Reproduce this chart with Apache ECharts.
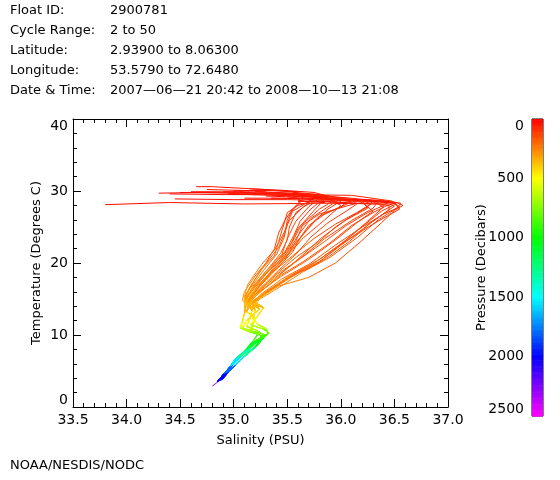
<!DOCTYPE html>
<html><head><meta charset="utf-8">
<script src="https://cdn.jsdelivr.net/npm/echarts@6/dist/echarts.min.js"></script>
<style>html,body{margin:0;padding:0;background:#fff}#c{width:560px;height:480px}</style>
</head><body><div id="c"></div>
<script>
const headerLabels = ['Float ID:', 'Cycle Range:', 'Latitude:', 'Longitude:', 'Date & Time:'];
const headerValues = ['2900781', '2 to 50', '2.93900 to 8.06300', '53.5790 to 72.6480', '2007\u201406\u201421 20:42 to 2008\u201410\u201413 21:08'];
const footerText = 'NOAA/NESDIS/NODC';
const xTitle = 'Salinity (PSU)';
const yTitle = 'Temperature (Degrees C)';
const barTitle = 'Pressure (Decibars)';

const pressureLevels = [5, 20, 35, 50, 70, 90, 110, 135, 160, 190, 240, 290, 350, 440, 520, 640, 760, 880, 1050, 1300, 1550, 1800, 2000, 2300];

const salinityProfiles = [
[33.80,34.40,35.10,35.90,36.45,36.50,36.30,36.05,35.80,35.55,35.30,35.18, 35.17,35.15,35.12,35.22,35.27,35.24,35.16,35.06,34.99,34.93,34.87,34.80],
[35.90,36.00,36.20,36.40,36.56,36.52,36.35,36.15,35.90,35.65,35.38,35.20, 35.24,35.12,35.08,35.18,35.30,35.20,35.12,35.03,34.97,34.91,34.85],
[34.40,34.90,35.50,36.10,36.48,36.55,36.30,36.00,35.75,35.50,35.28,35.15, 35.12,35.20,35.16,35.28,35.33,35.28,35.21,35.10,35.02,34.95,34.89],
[34.65,34.80,35.05,35.30,35.80,36.00,35.85,35.65,35.50,35.35,35.20,35.12, 35.28,35.22,35.18,35.16,35.22,35.18,35.10,35.01,34.96,34.90,34.85],
[34.50,35.00,35.60,35.90,35.95,35.80,35.65,35.58,35.48,35.35,35.20,35.12, 35.10,35.08,35.06,35.15,35.24,35.26,35.19,35.09,35.01,34.94,34.88],
[35.10,35.40,35.70,35.95,36.10,36.00,35.80,35.65,35.50,35.40,35.22,35.15, 35.20,35.18,35.22,35.30,35.32,35.22,35.13,35.05,34.98,34.92,34.86],
[35.60,35.62,35.65,35.70,35.60,35.50,35.46,35.42,35.38,35.25,35.15,35.10, 35.17,35.15,35.12,35.22,35.27,35.24,35.16,35.06,34.99,34.93,34.87],
[35.80,36.00,36.20,36.30,36.25,36.10,35.95,35.80,35.60,35.42,35.26,35.15, 35.24,35.12,35.08,35.18,35.30,35.20,35.12,35.03,34.97,34.91,34.85],
[36.20,36.30,36.40,36.50,36.55,36.40,36.20,35.95,35.70,35.45,35.25,35.16, 35.12,35.20,35.16,35.28,35.33,35.28,35.21,35.10,35.02,34.95,34.89],
[34.30,34.70,35.20,35.60,35.85,35.75,35.60,35.52,35.40,35.30,35.18,35.12, 35.28,35.22,35.18,35.16,35.22,35.18,35.10,35.01,34.96,34.90,34.85],
[35.30,35.50,35.80,36.00,36.20,36.30,36.15,35.95,35.70,35.45,35.22,35.12, 35.10,35.08,35.06,35.15,35.24,35.26,35.19,35.09,35.01,34.94,34.88],
[35.50,35.55,35.60,35.62,35.55,35.48,35.42,35.38,35.30,35.20,35.10,35.08, 35.20,35.18,35.22,35.30,35.32,35.22,35.13,35.05,34.98,34.92,34.86],
[36.00,36.20,36.40,36.52,36.58,36.50,36.38,36.18,35.95,35.70,35.42,35.25, 35.17,35.15,35.12,35.22,35.27,35.24,35.16,35.06,34.99,34.93,34.87],
[34.90,35.10,35.40,35.80,36.00,35.90,35.72,35.60,35.48,35.32,35.18,35.10, 35.24,35.12,35.08,35.18,35.30,35.20,35.12,35.03,34.97,34.91,34.85],
[34.45,35.00,35.50,35.95,36.30,36.40,36.25,36.05,35.80,35.55,35.30,35.16, 35.12,35.20,35.16,35.28,35.33,35.28,35.21,35.10,35.02,34.95,34.89],
[35.70,35.80,35.90,36.05,36.00,35.85,35.70,35.62,35.55,35.40,35.22,35.14, 35.28,35.22,35.18,35.16,35.22,35.18,35.10,35.01,34.96,34.90,34.85],
[35.40,35.60,35.85,36.10,36.35,36.30,36.10,35.85,35.60,35.38,35.20,35.12, 35.10,35.08,35.06,35.15,35.24,35.26,35.19,35.09,35.01,34.94,34.88],
[35.20,34.95,35.35,35.75,35.70,35.55,35.50,35.47,35.40,35.28,35.14,35.10, 35.20,35.18,35.22,35.30,35.32,35.22,35.13,35.05,34.98,34.92,34.86],
[35.85,35.60,35.90,36.15,36.05,35.80,35.62,35.55,35.45,35.30,35.15,35.10, 35.17,35.15,35.12,35.22,35.27,35.24,35.16,35.06,34.99,34.93,34.87],
[34.75,35.30,35.20,35.65,35.80,35.70,35.58,35.50,35.45,35.32,35.18,35.12, 35.24,35.12,35.08,35.18,35.30,35.20,35.12,35.03,34.97,34.91,34.85],
[36.40,36.45,36.50,36.48,36.42,36.30,36.10,35.90,35.65,35.45,35.25,35.14, 35.12,35.20,35.16,35.28,35.33,35.28,35.21,35.10,35.02,34.95,34.89],
[35.55,35.90,35.70,35.95,36.00,35.88,35.75,35.65,35.55,35.42,35.24,35.15, 35.28,35.22,35.18,35.16,35.22,35.18,35.10,35.01,34.96,34.90,34.85],
[35.00,35.25,35.60,35.55,35.85,35.65,35.52,35.46,35.38,35.26,35.13,35.10, 35.10,35.08,35.06,35.15,35.24,35.26,35.19,35.09,35.01,34.94,34.88],
[35.95,36.10,36.30,36.35,36.45,36.45,36.28,36.08,35.85,35.60,35.35,35.18, 35.20,35.18,35.22,35.30,35.32,35.22,35.13,35.05,34.98,34.92,34.86],
[35.65,35.75,35.70,35.72,35.68,35.58,35.52,35.50,35.44,35.34,35.18,35.12, 35.17,35.15,35.12,35.22,35.27,35.24,35.16,35.06,34.99,34.93,34.87],
[35.75,35.85,36.00,36.10,36.15,36.05,35.88,35.72,35.58,35.42,35.24,35.14, 35.24,35.12,35.08,35.18,35.30,35.20,35.12,35.03,34.97,34.91,34.85],
[34.60,34.85,35.30,35.80,36.20,36.25,36.05,35.82,35.62,35.45,35.26,35.15, 35.12,35.20,35.16,35.28,35.33,35.28,35.21,35.10,35.02,34.95,34.89],
[35.45,35.50,35.58,35.65,35.62,35.55,35.50,35.48,35.42,35.30,35.16,35.10, 35.28,35.22,35.18,35.16,35.22,35.18,35.10,35.01,34.96,34.90,34.85],
[36.25,36.35,36.45,36.52,36.50,36.38,36.22,36.00,35.78,35.52,35.30,35.17, 35.10,35.08,35.06,35.15,35.24,35.26,35.19,35.09,35.01,34.94,34.88],
[35.35,35.65,35.95,36.20,36.28,36.15,35.95,35.75,35.55,35.36,35.20,35.12, 35.20,35.18,35.22,35.30,35.32,35.22,35.13,35.05,34.98,34.92,34.86],
[35.15,35.45,35.75,35.85,35.82,35.72,35.62,35.56,35.48,35.36,35.20,35.12, 35.17,35.15,35.12,35.22,35.27,35.24,35.16,35.06,34.99,34.93,34.87],
[36.10,36.25,36.38,36.45,36.40,36.25,36.05,35.85,35.62,35.40,35.22,35.13, 35.24,35.12,35.08,35.18,35.30,35.20,35.12,35.03,34.97,34.91,34.85]
];

const temperatureProfiles = [
[28.1,28.4,28.2,28.3,28.2,27.9,25.8,23.0,20.2,18.3,15.9,14.4, 13.4,12.2,11.2,10.6,10.1,9.4,8.2,6.9,5.8,4.7,3.7,2.9],
[29.0,28.9,28.7,28.6,28.3,27.6,26.0,23.5,20.8,18.8,16.2,14.6, 13.6,12.0,11.0,10.5,10.0,9.2,8.0,6.8,5.7,4.6,3.6],
[29.6,29.5,29.5,29.4,28.6,27.5,25.4,22.6,20.0,18.0,15.8,14.3, 13.2,12.4,11.4,10.8,10.3,9.6,8.4,7.0,5.9,4.8,3.8],
[30.6,30.6,30.4,30.2,29.5,28.0,26.0,23.5,21.0,18.8,16.0,14.5, 13.8,12.6,11.6,10.7,10.0,9.1,7.8,6.6,5.5,4.5,3.5],
[29.8,29.7,29.6,29.3,28.8,27.5,25.5,23.0,20.5,18.5,16.2,14.8, 13.0,11.8,11.0,10.4,10.1,9.5,8.3,7.0,5.8,4.7,3.7],
[29.0,29.0,28.9,28.8,28.5,27.8,26.5,24.0,21.5,19.5,16.8,15.0, 13.5,12.3,11.5,10.9,10.2,9.3,8.1,6.9,5.7,4.6,3.6],
[28.8,28.7,28.6,28.4,28.0,27.0,25.0,23.0,21.0,19.0,16.5,15.2, 13.4,12.2,11.2,10.6,10.1,9.4,8.2,6.9,5.8,4.7,3.7],
[28.9,28.9,28.8,28.6,27.8,26.5,25.0,23.0,21.0,18.8,16.5,14.8, 13.6,12.0,11.0,10.5,10.0,9.2,8.0,6.8,5.7,4.6,3.6],
[28.5,28.5,28.4,28.3,27.8,26.8,25.0,22.5,19.8,17.8,15.6,14.2, 13.2,12.4,11.4,10.8,10.3,9.6,8.4,7.0,5.9,4.8,3.8],
[29.7,29.8,29.7,29.5,28.9,27.3,24.8,22.2,19.8,18.0,16.0,14.6, 13.8,12.6,11.6,10.7,10.0,9.1,7.8,6.6,5.5,4.5,3.5],
[29.3,29.2,29.1,28.9,28.4,27.2,25.6,23.2,20.5,18.2,15.8,14.4, 13.0,11.8,11.0,10.4,10.1,9.5,8.3,7.0,5.8,4.7,3.7],
[29.2,29.1,29.0,28.6,27.5,26.0,24.2,22.0,20.0,18.2,16.0,14.8, 13.5,12.3,11.5,10.9,10.2,9.3,8.1,6.9,5.7,4.6,3.6],
[28.7,28.7,28.6,28.4,28.0,27.3,25.6,22.9,20.0,18.0,16.8,15.2, 13.4,12.2,11.2,10.6,10.1,9.4,8.2,6.9,5.8,4.7,3.7],
[29.9,29.9,29.8,29.5,29.0,28.0,26.2,23.8,21.0,18.8,16.3,14.9, 13.6,12.0,11.0,10.5,10.0,9.2,8.0,6.8,5.7,4.6,3.6],
[28.9,28.8,28.8,28.7,28.5,27.8,25.8,23.2,20.5,18.4,16.0,14.5, 13.2,12.4,11.4,10.8,10.3,9.6,8.4,7.0,5.9,4.8,3.8],
[28.6,28.6,28.5,28.4,27.8,26.8,25.2,23.5,21.5,19.2,16.4,14.9, 13.8,12.6,11.6,10.7,10.0,9.1,7.8,6.6,5.5,4.5,3.5],
[29.4,29.4,29.3,29.0,28.6,27.6,25.9,23.4,20.4,17.9,15.6,14.3, 13.0,11.8,11.0,10.4,10.1,9.5,8.3,7.0,5.8,4.7,3.7],
[29.5,29.6,29.4,29.2,28.5,27.2,25.5,23.5,21.2,19.0,16.2,14.8, 13.5,12.3,11.5,10.9,10.2,9.3,8.1,6.9,5.7,4.6,3.6],
[28.4,28.6,28.5,28.3,27.9,26.8,25.0,23.0,21.0,18.6,16.0,14.7, 13.4,12.2,11.2,10.6,10.1,9.4,8.2,6.9,5.8,4.7,3.7],
[30.2,30.0,29.9,29.6,29.0,27.8,25.8,23.4,21.2,19.2,16.6,15.0, 13.6,12.0,11.0,10.5,10.0,9.2,8.0,6.8,5.7,4.6,3.6],
[28.4,28.4,28.3,28.2,27.9,27.0,25.2,22.8,20.2,18.4,16.0,14.6, 13.2,12.4,11.4,10.8,10.3,9.6,8.4,7.0,5.9,4.8,3.8],
[29.3,29.2,29.2,29.0,28.6,27.5,25.8,24.0,22.0,19.8,16.8,15.1, 13.8,12.6,11.6,10.7,10.0,9.1,7.8,6.6,5.5,4.5,3.5],
[30.0,30.1,29.9,29.7,29.3,27.8,25.9,23.9,21.8,19.8,17.0,15.3, 13.0,11.8,11.0,10.4,10.1,9.5,8.3,7.0,5.8,4.7,3.7],
[28.3,28.3,28.2,28.2,28.0,27.4,25.6,23.0,20.5,18.6,16.3,14.8, 13.5,12.3,11.5,10.9,10.2,9.3,8.1,6.9,5.7,4.6,3.6],
[28.9,28.8,28.8,28.6,28.1,27.0,25.0,23.2,21.4,19.5,16.8,15.1, 13.4,12.2,11.2,10.6,10.1,9.4,8.2,6.9,5.8,4.7,3.7],
[29.1,29.0,28.9,28.7,28.2,27.2,25.6,23.6,21.2,19.0,16.4,14.9, 13.6,12.0,11.0,10.5,10.0,9.2,8.0,6.8,5.7,4.6,3.6],
[29.9,29.9,29.7,29.4,28.7,27.6,26.0,23.5,20.8,18.6,16.1,14.6, 13.2,12.4,11.4,10.8,10.3,9.6,8.4,7.0,5.9,4.8,3.8],
[29.6,29.5,29.4,29.1,28.4,27.4,26.0,24.3,22.2,19.9,16.9,15.2, 13.8,12.6,11.6,10.7,10.0,9.1,7.8,6.6,5.5,4.5,3.5],
[28.6,28.5,28.5,28.4,28.1,27.2,25.3,22.6,19.9,18.0,15.8,14.4, 13.0,11.8,11.0,10.4,10.1,9.5,8.3,7.0,5.8,4.7,3.7],
[29.0,29.0,28.9,28.7,28.2,27.0,25.4,23.4,21.0,18.7,16.0,14.6, 13.5,12.3,11.5,10.9,10.2,9.3,8.1,6.9,5.7,4.6,3.6],
[30.3,30.1,29.8,29.4,28.7,27.5,25.8,23.8,21.6,19.5,16.7,15.0, 13.4,12.2,11.2,10.6,10.1,9.4,8.2,6.9,5.8,4.7,3.7],
[28.8,28.8,28.7,28.5,28.0,27.0,25.2,23.0,20.6,18.4,16.0,14.6, 13.6,12.0,11.0,10.5,10.0,9.2,8.0,6.8,5.7,4.6,3.6]
];

const pressureTicks = [0, 500, 1000, 1500, 2000, 2500];
const colorScale = ['#ff0000','#ff8000','#ffff00','#80ff00','#00ff00','#00ff80','#00ffff','#0080ff','#0000ff','#8000ff','#ff00ff'];

// table for the library
const tsData = [];
salinityProfiles.forEach((sal, k) => {
  sal.forEach((s, i) => tsData.push([s, temperatureProfiles[k][i], pressureLevels[i], k]));
});
const pMax = pressureTicks[pressureTicks.length - 1];
const barData = [];
for (let p = 0; p < pMax; p += 10) barData.push([0, p, p + 5, p + 10]);

const FONT = '"DejaVu Sans"';
const black = '#000';

function renderSegment(params, api) {
  const i = params.dataIndexInside;
  if (i === 0 || api.value(3, i - 1) !== api.value(3)) return { type: 'group', children: [] };
  const a = api.coord([api.value(0, i - 1), api.value(1, i - 1)]);
  const b = api.coord([api.value(0), api.value(1)]);
  return { type: 'line', shape: { x1: a[0], y1: a[1], x2: b[0], y2: b[1] },
           style: { stroke: api.visual('color'), lineWidth: 1 } };
}
function renderBand(params, api) {
  const tl = api.coord([0, api.value(1)]);
  const br = api.coord([1, api.value(3)]);
  return { type: 'rect', shape: { x: tl[0], y: tl[1], width: br[0] - tl[0], height: br[1] - tl[1] + 0.6 },
           style: { fill: api.visual('color') } };
}

function valueAxisX(pos, showLabel) {
  return {
    gridIndex: 0, type: 'value', position: pos, min: 33.5, max: 37.0, interval: 0.5,
    axisLine: { show: true, onZero: false, lineStyle: { color: black, width: 1 } },
    axisTick: { show: true, inside: true, length: 8, lineStyle: { color: black } },
    minorTick: { show: true, splitNumber: 5, length: 4, lineStyle: { color: black } },
    splitLine: { show: false }, minorSplitLine: { show: false },
    axisLabel: { show: showLabel, color: black, fontFamily: FONT, fontSize: 14, margin: 6,
                 formatter: v => v.toFixed(1) },
    name: showLabel ? xTitle : '', nameLocation: 'middle', nameGap: 27,
    nameTextStyle: { color: black, fontFamily: FONT, fontSize: 13 }
  };
}
function valueAxisY(pos, showLabel) {
  return {
    gridIndex: 0, type: 'value', position: pos, min: 0, max: 40, interval: 10,
    axisLine: { show: true, onZero: false, lineStyle: { color: black, width: 1 } },
    axisTick: { show: true, inside: true, length: 8, lineStyle: { color: black } },
    minorTick: { show: true, splitNumber: 5, length: 4, lineStyle: { color: black } },
    splitLine: { show: false }, minorSplitLine: { show: false },
    axisLabel: { show: showLabel, color: black, fontFamily: FONT, fontSize: 14, margin: 5,
                 verticalAlignMinLabel: 'bottom', verticalAlignMaxLabel: 'top' },
    name: showLabel ? yTitle : '', nameLocation: 'middle', nameGap: 30, nameMoveOverlap: false,
    nameTextStyle: { color: black, fontFamily: FONT, fontSize: 13 }
  };
}

const graphics = [];
headerLabels.forEach((t, i) => {
  graphics.push({ type: 'text', x: 10, y: 11 + i * 20, style: { text: t, font: '13px ' + FONT, fill: black, textVerticalAlign: 'middle' } });
  graphics.push({ type: 'text', x: 110, y: 11 + i * 20, style: { text: headerValues[i], font: '13px ' + FONT, fill: black, textVerticalAlign: 'middle' } });
});
graphics.push({ type: 'text', x: 10, y: 466, style: { text: footerText, font: '13px ' + FONT, fill: black, textVerticalAlign: 'middle' } });

const chart = echarts.init(document.getElementById('c'), null, { renderer: 'canvas' });
chart.setOption({
  animation: false,
  backgroundColor: '#fff',
  grid: [
    { left: 73, top: 119, width: 375, height: 288, outerBoundsMode: 'none', containLabel: false },
    { left: 532, top: 119, width: 11, height: 297, show: true, borderColor: black, borderWidth: 1,
      backgroundColor: 'transparent', outerBoundsMode: 'none', containLabel: false }
  ],
  xAxis: [
    valueAxisX('bottom', true),
    valueAxisX('top', false),
    { gridIndex: 1, type: 'value', min: 0, max: 1, show: false }
  ],
  yAxis: [
    valueAxisY('left', true),
    valueAxisY('right', false),
    { gridIndex: 1, type: 'value', min: 0, max: pMax, interval: 500, inverse: true, position: 'left',
      axisLine: { show: false }, axisTick: { show: false }, splitLine: { show: false },
      axisLabel: { color: black, fontFamily: FONT, fontSize: 14, margin: 8, formatter: v => String(v),
                   verticalAlignMinLabel: 'top', verticalAlignMaxLabel: 'bottom' },
      name: barTitle, nameLocation: 'middle', nameGap: 44, nameMoveOverlap: false,
      nameTextStyle: { color: black, fontFamily: FONT, fontSize: 13 } }
  ],
  visualMap: {
    type: 'continuous', show: false, min: 0, max: pMax, dimension: 2, seriesIndex: [0, 1],
    inRange: { color: colorScale }
  },
  series: [
    { type: 'custom', xAxisIndex: 0, yAxisIndex: 0, data: tsData, encode: { x: 0, y: 1 },
      renderItem: renderSegment, clip: true, silent: true },
    { type: 'custom', xAxisIndex: 2, yAxisIndex: 2, data: barData, encode: { x: 0, y: [1, 3] },
      renderItem: renderBand, silent: true }
  ],
  graphic: graphics
});
</script></body></html>
